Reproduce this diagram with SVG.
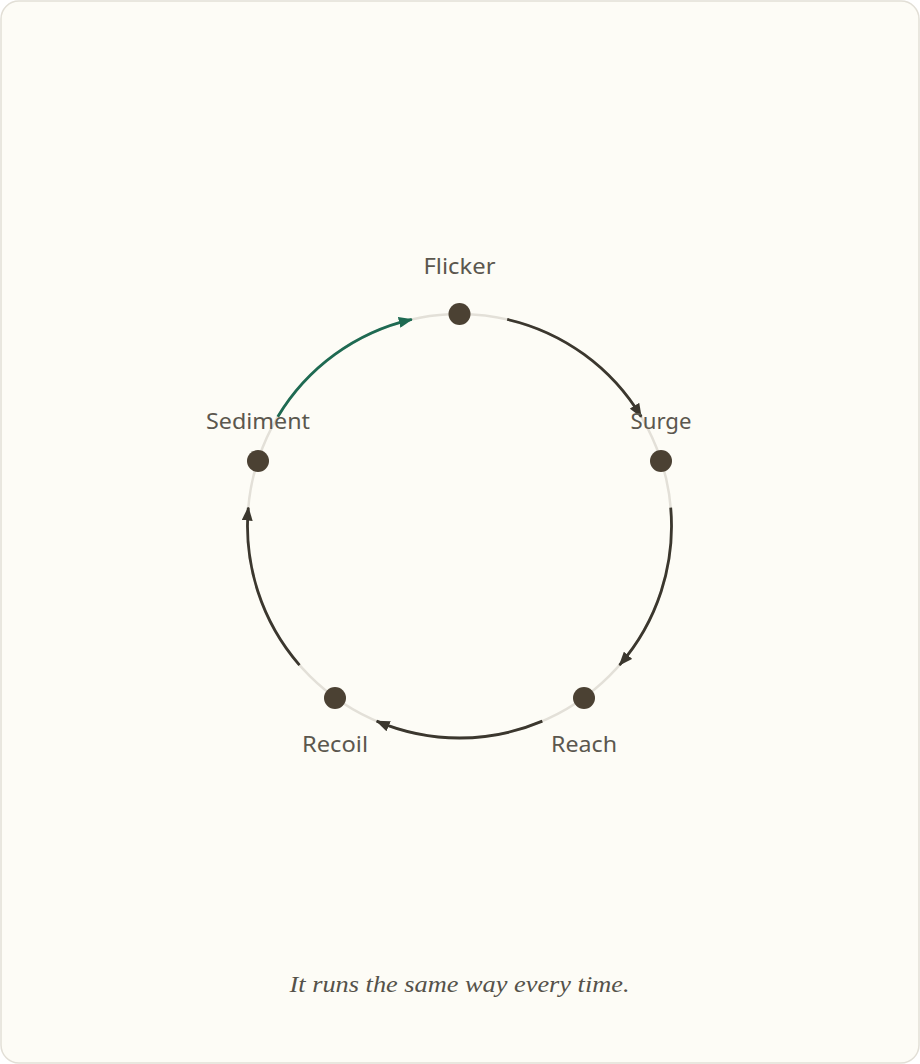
<svg xmlns="http://www.w3.org/2000/svg" width="920" height="1064" viewBox="0 0 920 1064">
<style>
.track{fill:none;stroke:#e3e0d8;stroke-width:2.5}
.arc{fill:none;stroke:#3b372e;stroke-width:2.8}
.arc.hl{stroke:#1e6a52}
.dot{fill:#4b4133}
.lbl{font-family:"Noto Sans","Liberation Sans",sans-serif;font-size:22px;fill:#5b574e;text-anchor:middle}
.cap{font-family:"Liberation Serif",serif;font-style:italic;font-size:24px;fill:#55524a;text-anchor:middle}
</style>
<defs>
<marker id="ah" viewBox="0 0 14 11" refX="13" refY="5.5" markerWidth="14" markerHeight="11" markerUnits="userSpaceOnUse" orient="auto"><path d="M0,0 L14,5.5 L0,11 z" fill="#3b372e"/></marker>
<marker id="ahg" viewBox="0 0 14 11" refX="13" refY="5.5" markerWidth="14" markerHeight="11" markerUnits="userSpaceOnUse" orient="auto"><path d="M0,0 L14,5.5 L0,11 z" fill="#1e6a52"/></marker>
</defs>
<rect x="1" y="1" width="918" height="1062" rx="18" fill="#fdfcf6" stroke="#e2dfd6" stroke-width="1.5"/>
<circle class="track" cx="459.5" cy="526" r="212"/>
<g id="connectors">
<path class="arc" d="M507.19,319.43 A212,212 0 0 1 641.22,416.81" marker-end="url(#ah)"/>
<path class="arc" d="M670.69,507.52 A212,212 0 0 1 619.50,665.08" marker-end="url(#ah)"/>
<path class="arc" d="M542.33,721.15 A212,212 0 0 1 376.67,721.15" marker-end="url(#ah)"/>
<path class="arc" d="M299.50,665.08 A212,212 0 0 1 248.31,507.52" marker-end="url(#ah)"/>
<path class="arc hl" d="M277.78,416.81 A212,212 0 0 1 411.81,319.43" marker-end="url(#ahg)"/>
</g>
<g id="flicker"><circle class="dot" cx="459.5" cy="314" r="11"/><text class="lbl" x="459.5" y="274" textLength="72" lengthAdjust="spacingAndGlyphs">Flicker</text></g>
<g id="surge"><circle class="dot" cx="661" cy="461" r="11"/><text class="lbl" x="661" y="429" textLength="61" lengthAdjust="spacingAndGlyphs">Surge</text></g>
<g id="reach"><circle class="dot" cx="584" cy="698" r="11"/><text class="lbl" x="584" y="752" textLength="66" lengthAdjust="spacingAndGlyphs">Reach</text></g>
<g id="recoil"><circle class="dot" cx="335" cy="698" r="11"/><text class="lbl" x="335" y="752" textLength="66" lengthAdjust="spacingAndGlyphs">Recoil</text></g>
<g id="sediment"><circle class="dot" cx="258" cy="461" r="11"/><text class="lbl" x="258" y="429" textLength="104" lengthAdjust="spacingAndGlyphs">Sediment</text></g>
<text class="cap" x="459.5" y="992" textLength="340" lengthAdjust="spacingAndGlyphs">It runs the same way every time.</text>
</svg>
